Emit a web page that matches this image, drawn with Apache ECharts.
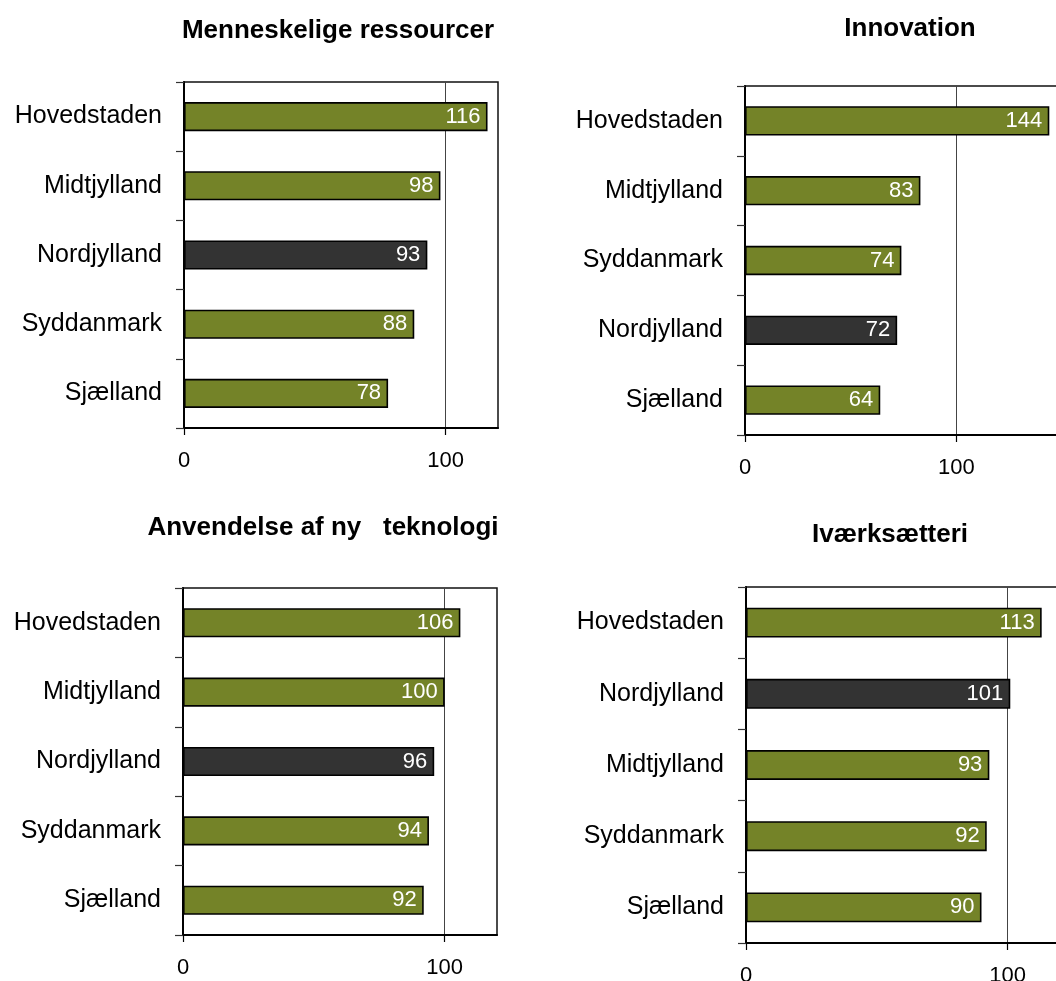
<!DOCTYPE html>
<html>
<head>
<meta charset="utf-8">
<style>
  html, body { margin: 0; padding: 0; background: #fff; }
  #chart { width: 1056px; height: 981px; }
</style>
<script src="https://cdn.jsdelivr.net/npm/echarts@6/dist/echarts.min.js"></script>
</head>
<body>
<div id="chart"></div>
<script>
// ---- Data ----
const titles = ["Menneskelige ressourcer", "Innovation", "Anvendelse af ny   teknologi", "Iværksætteri"];

const cats1 = ["Hovedstaden", "Midtjylland", "Nordjylland", "Syddanmark", "Sjælland"];
const vals1 = [116, 98, 93, 88, 78];

const cats2 = ["Hovedstaden", "Midtjylland", "Syddanmark", "Nordjylland", "Sjælland"];
const vals2 = [144, 83, 74, 72, 64];

const cats3 = ["Hovedstaden", "Midtjylland", "Nordjylland", "Syddanmark", "Sjælland"];
const vals3 = [106, 100, 96, 94, 92];

const cats4 = ["Hovedstaden", "Nordjylland", "Midtjylland", "Syddanmark", "Sjælland"];
const vals4 = [113, 101, 93, 92, 90];

const xTickValues = [0, 100];
const axisMax = [120, 150, 120, 120];
const highlightRegion = "Nordjylland";

// ---- Styling / layout ----
const FONT = "'Liberation Sans', Arial, Helvetica, sans-serif";
const GREEN = "#748328";
const DARK = "#333333";

const grids = [
  { left: 184, top: 82,  width: 314, height: 346 },
  { left: 745, top: 86,  width: 317, height: 349 },
  { left: 183, top: 588, width: 314, height: 347 },
  { left: 746, top: 587, width: 314, height: 356 }
];
const titlePos = [
  { x: 338, y: 31 },
  { x: 910, y: 29 },
  { x: 323, y: 528 },
  { x: 890, y: 535 }
];

const panels = [
  { cats: cats1, vals: vals1 },
  { cats: cats2, vals: vals2 },
  { cats: cats3, vals: vals3 },
  { cats: cats4, vals: vals4 }
];

const chart = echarts.init(document.getElementById('chart'), null, { renderer: 'canvas' });

const option = {
  backgroundColor: '#ffffff',
  animation: false,
  grid: grids.map(g => Object.assign({
    containLabel: false,
    outerBoundsMode: 'none',
    show: true,
    borderColor: '#111',
    borderWidth: 1.5,
    backgroundColor: 'transparent'
  }, g)),
  xAxis: panels.map((p, i) => ({
    type: 'value',
    gridIndex: i,
    min: 0,
    max: axisMax[i],
    interval: 100,
    axisLine: { show: true, onZero: false, lineStyle: { color: '#000', width: 2 } },
    axisTick: { show: true, length: 7, customValues: xTickValues, lineStyle: { color: '#000', width: 1.2 } },
    axisLabel: {
      show: true,
      margin: 22,
      fontSize: 22,
      color: '#000',
      fontFamily: FONT,
      customValues: xTickValues,
      formatter: v => (xTickValues.indexOf(v) >= 0 ? String(v) : '')
    },
    splitLine: { show: true, lineStyle: { color: '#444', width: 1 } }
  })),
  yAxis: panels.map((p, i) => ({
    type: 'category',
    gridIndex: i,
    data: p.cats,
    inverse: true,
    axisLine: { show: true, lineStyle: { color: '#000', width: 2 } },
    axisTick: { show: true, length: 8, lineStyle: { color: '#333', width: 1.2 } },
    axisLabel: { margin: 22, fontSize: 25, color: '#000', fontFamily: FONT },
    splitLine: { show: false }
  })),
  series: panels.map((p, i) => ({
    type: 'bar',
    xAxisIndex: i,
    yAxisIndex: i,
    barWidth: '42%',
    data: p.vals.map((v, j) => ({
      value: v,
      itemStyle: { color: p.cats[j] === highlightRegion ? DARK : GREEN }
    })),
    itemStyle: { borderColor: '#000', borderWidth: 1.6 },
    label: {
      show: true,
      position: 'insideRight',
      distance: 7,
      color: '#fff',
      fontSize: 22,
      fontFamily: FONT
    }
  })),
  graphic: titles.map((t, i) => ({
    type: 'text',
    x: titlePos[i].x,
    y: titlePos[i].y,
    style: {
      text: t,
      fill: '#000',
      fontSize: 26,
      fontWeight: 'bold',
      fontFamily: FONT,
      textAlign: 'center',
      textVerticalAlign: 'middle'
    }
  }))
};

chart.setOption(option);
</script>
</body>
</html>
